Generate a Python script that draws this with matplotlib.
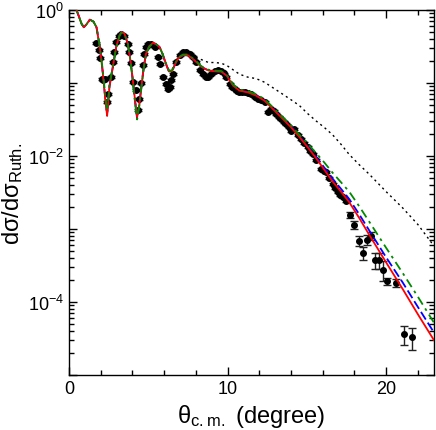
import numpy as np
import matplotlib
matplotlib.use('Agg')
import matplotlib.pyplot as plt
from matplotlib.ticker import LogLocator, MultipleLocator, FuncFormatter, NullFormatter

plt.rcParams['font.family'] = ['Liberation Sans', 'DejaVu Sans']
plt.rcParams['mathtext.default'] = 'regular'

# angle grid for the calculated curves (degree, c.m.)
theta_calc = [0.0, 0.3, 0.48, 0.65, 0.8, 0.94, 1.1, 1.32, 1.55, 1.74,
              1.95, 2.12, 2.3, 2.41, 2.56, 2.77, 2.98, 3.19, 3.32, 3.5,
              3.71, 3.88, 4.03, 4.17, 4.3, 4.45, 4.59, 4.72, 4.86, 5.05,
              5.3, 5.5, 5.72, 5.9, 6.1, 6.3, 6.5, 6.7, 6.9, 7.19,
              7.5, 7.92, 8.35, 8.8, 9.2, 9.6, 9.95, 10.35, 10.75, 11.27,
              11.8, 12.33, 12.75, 13.38, 14.0, 14.53, 15.05, 15.58, 16.1, 16.62,
              17.15, 17.67, 18.3, 18.93, 20.0, 21.03, 22.0, 23.0]

# log10 of the ratio to Rutherford for each calculation
log_red = [0.2, 0.08, 0.0, -0.1, -0.19, -0.237, -0.2, -0.133, -0.16, -0.237,
           -0.51, -0.83, -1.24, -1.45, -1.05, -0.78, -0.51, -0.347, -0.3, -0.325,
           -0.46, -0.69, -0.96, -1.24, -1.47, -1.28, -1.01, -0.78, -0.6, -0.5,
           -0.45, -0.47, -0.51, -0.6, -0.73, -0.84, -0.84, -0.74, -0.66, -0.62,
           -0.62, -0.69, -0.78, -0.83, -0.84, -0.845, -0.9, -1.037, -1.105, -1.128,
           -1.174, -1.242, -1.333, -1.47, -1.607, -1.74, -1.88, -2.03, -2.19, -2.35,
           -2.49, -2.634, -2.85, -3.08, -3.46, -3.82, -4.17, -4.52]

log_blue = [0.2, 0.08, 0.0, -0.1, -0.19, -0.237, -0.2, -0.133, -0.16, -0.237,
            -0.51, -0.82, -1.22, -1.42, -1.04, -0.78, -0.51, -0.347, -0.3, -0.325,
            -0.46, -0.69, -0.96, -1.25, -1.49, -1.28, -1.01, -0.78, -0.6, -0.5,
            -0.45, -0.47, -0.51, -0.6, -0.73, -0.84, -0.84, -0.74, -0.66, -0.62,
            -0.62, -0.69, -0.78, -0.83, -0.84, -0.845, -0.9, -1.035, -1.1, -1.125,
            -1.17, -1.235, -1.325, -1.46, -1.595, -1.73, -1.865, -2.01, -2.16, -2.31,
            -2.45, -2.59, -2.8, -3.02, -3.39, -3.73, -4.07, -4.415]

log_green = [0.2, 0.08, 0.0, -0.1, -0.19, -0.237, -0.2, -0.133, -0.16, -0.237,
             -0.5, -0.8, -1.18, -1.38, -1.02, -0.77, -0.52, -0.355, -0.31, -0.33,
             -0.46, -0.7, -0.98, -1.27, -1.5, -1.3, -1.03, -0.8, -0.61, -0.51,
             -0.455, -0.47, -0.51, -0.6, -0.72, -0.83, -0.83, -0.73, -0.65, -0.61,
             -0.61, -0.68, -0.77, -0.82, -0.83, -0.835, -0.89, -1.02, -1.09, -1.11,
             -1.155, -1.22, -1.31, -1.45, -1.58, -1.71, -1.83, -1.96, -2.09, -2.23,
             -2.36, -2.49, -2.69, -2.9, -3.26, -3.6, -3.93, -4.28]

log_dotted = [0.2, 0.08, 0.0, -0.1, -0.19, -0.237, -0.2, -0.133, -0.16, -0.237,
              -0.51, -0.83, -1.24, -1.45, -1.05, -0.78, -0.51, -0.347, -0.3, -0.325,
              -0.46, -0.69, -0.96, -1.24, -1.47, -1.28, -1.01, -0.78, -0.6, -0.5,
              -0.45, -0.47, -0.51, -0.6, -0.72, -0.82, -0.82, -0.72, -0.64, -0.6,
              -0.6, -0.64, -0.68, -0.72, -0.72, -0.73, -0.76, -0.82, -0.88, -0.92,
              -0.94, -0.99, -1.05, -1.14, -1.23, -1.31, -1.42, -1.52, -1.61, -1.71,
              -1.84, -1.98, -2.12, -2.25, -2.49, -2.71, -2.94, -3.23]

# measured points
theta_exp = [1.72, 1.89, 1.97, 2.08, 2.14, 2.3, 2.38, 2.46, 2.66, 2.77,
             2.87, 2.97, 3.14, 3.29, 3.46, 3.71, 3.82, 3.92, 4.07, 4.23,
             4.34, 4.45, 4.55, 4.65, 4.76, 4.86, 5.0, 5.2, 5.41, 5.62,
             5.72, 5.93, 6.14, 6.25, 6.35, 6.46, 6.56, 6.77, 6.98, 7.19,
             7.4, 7.61, 7.82, 8.03, 8.24, 8.45, 8.66, 8.76, 8.97, 9.18,
             9.39, 9.6, 9.76, 9.92, 10.13, 10.29, 10.44, 10.6, 10.75, 10.91,
             11.07, 11.28, 11.49, 11.7, 11.9, 12.1, 12.33, 12.53, 12.75, 12.9,
             13.06, 13.22, 13.38, 13.53, 13.69, 13.85, 14.0, 14.21, 14.42, 14.63,
             14.84, 15.05, 15.21, 15.37, 15.6, 15.89, 16.05, 16.21, 16.42, 16.62,
             16.78, 16.94, 17.1, 17.25, 17.46, 17.71, 17.99, 18.26, 18.51, 18.76,
             19.04, 19.31, 19.56, 19.81, 20.08, 20.61, 21.13, 21.6]

log_exp = [-0.452, -0.544, -0.653, -0.945, -0.955, -0.945, -1.26, -1.15, -0.918, -0.712,
           -0.575, -0.438, -0.36, -0.325, -0.36, -0.462, -0.575, -0.726, -0.986, -1.1,
           -1.374, -1.215, -1.0, -0.758, -0.599, -0.507, -0.47, -0.462, -0.507, -0.644,
           -0.736, -0.918, -1.01, -1.078, -1.055, -0.963, -0.873, -0.712, -0.621, -0.575,
           -0.575, -0.599, -0.644, -0.712, -0.826, -0.873, -0.918, -0.922, -0.88, -0.831,
           -0.82, -0.831, -0.87, -0.922, -1.014, -1.05, -1.082, -1.11, -1.128, -1.13,
           -1.128, -1.14, -1.151, -1.19, -1.219, -1.24, -1.265, -1.401, -1.356, -1.39,
           -1.425, -1.46, -1.493, -1.53, -1.56, -1.61, -1.653, -1.63, -1.71, -1.767,
           -1.82, -1.881, -1.93, -1.973, -2.06, -2.178, -2.2, -2.224, -2.3, -2.384,
           -2.44, -2.5, -2.53, -2.566, -2.612, -2.804, -2.945, -3.16, -3.33, -3.147,
           -3.09, -3.42, -3.42, -3.557, -3.717, -3.74, -4.438, -4.484]

# relative uncertainties
rel_err = [0.03] * 95 + [0.1, 0.12, 0.16, 0.2, 0.15,
                         0.12, 0.25, 0.25, 0.3, 0.12, 0.12, 0.3, 0.33]

fig = plt.figure(figsize=(4.36, 4.31), dpi=100)
ax = fig.add_axes([0.158, 0.1276, 0.837, 0.847])

y_exp = 10 ** np.array(log_exp)
yerr = y_exp * np.array(rel_err)
ax.errorbar(theta_exp, y_exp, yerr=yerr, fmt='o', color='black', ms=4,
            ecolor='#222222', elinewidth=1.0, capsize=3, capthick=1.0, zorder=2)

th = np.array(theta_calc)
ax.plot(th, 10 ** np.array(log_dotted), color='black', lw=1.0, ls=(0, (1.5, 2.5)), zorder=3)
ax.plot(th, 10 ** np.array(log_blue), color='blue', lw=1.3, ls=(0, (5, 2)), zorder=4)
ax.plot(th, 10 ** np.array(log_red), color='red', lw=1.3, zorder=5)
ax.plot(th, 10 ** np.array(log_green), color='#008a00', lw=1.3, ls=(0, (5, 2.5, 1.5, 2.5)), zorder=6)

ax.set_yscale('log')
ax.set_xlim(0, 23)
ax.set_ylim(1e-5, 1)

ax.xaxis.set_major_locator(MultipleLocator(10))
ax.xaxis.set_minor_locator(MultipleLocator(2))
ax.yaxis.set_major_locator(LogLocator(base=10, numticks=10))
ax.yaxis.set_minor_locator(LogLocator(base=10, subs=np.arange(2, 10), numticks=20))
ax.yaxis.set_minor_formatter(NullFormatter())


def even_decades(v, pos):
    e = int(round(np.log10(v)))
    if e % 2:
        return ''
    return r'$10^{%d}$' % e


ax.yaxis.set_major_formatter(FuncFormatter(even_decades))
ax.tick_params(which='both', direction='in', top=True, right=True, labelsize=13)
ax.tick_params(which='major', length=6, width=1)
ax.tick_params(which='minor', length=3.5, width=1)
for s in ax.spines.values():
    s.set_linewidth(1.0)

ax.set_xlabel(r'θ$_{c{.}m{.}}$ (degree)', fontsize=17, labelpad=4)
ax.set_ylabel(r'dσ/dσ$_{Ruth.}$', fontsize=17, labelpad=2)

fig.savefig('out.png', dpi=100)
